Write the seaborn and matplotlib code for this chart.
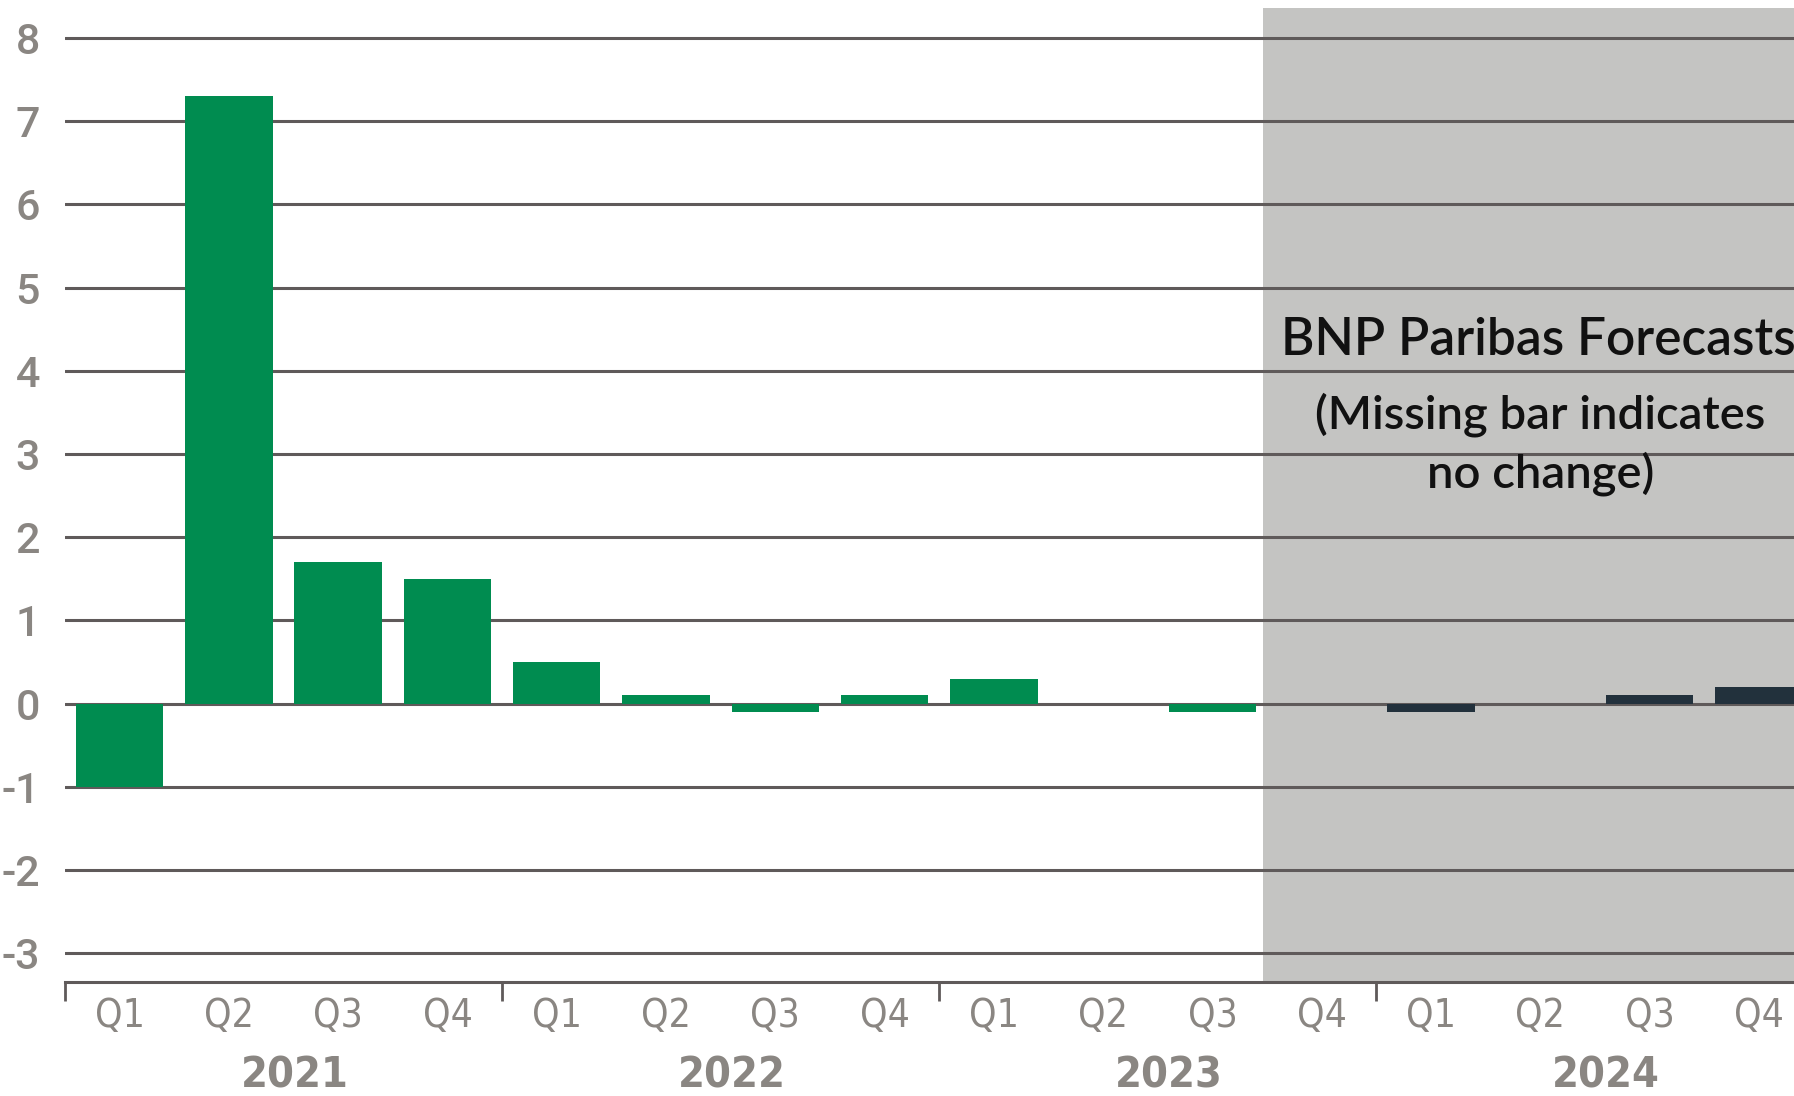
import numpy as np
import pandas as pd
import matplotlib
matplotlib.use("Agg")
import matplotlib.pyplot as plt
import matplotlib.transforms as mtransforms
from matplotlib import font_manager
import seaborn as sns

# ---- data ----
quarters = ["Q1", "Q2", "Q3", "Q4"] * 4
years = ["2021", "2022", "2023", "2024"]
values = [-1.0, 7.3, 1.7, 1.5, 0.5, 0.1, -0.1, 0.1, 0.3, 0.0, -0.1, 0.0, -0.1, 0.0, 0.1, 0.2]
kind = ["Actual"] * 11 + ["Forecast"] * 5
y_ticks = [-3, -2, -1, 0, 1, 2, 3, 4, 5, 6, 7, 8]
annot_title = "BNP Paribas Forecasts"
annot_note = "(Missing bar indicates\nno change)"

df = pd.DataFrame({"pos": [str(i) for i in range(len(values))], "value": values, "kind": kind})

sns.set_theme(style="white")

# pick a condensed font if available
names = {f.name for f in font_manager.fontManager.ttflist}
cond_files = [f for f in font_manager.fontManager.ttflist
              if f.name == "DejaVu Sans" and "ondensed" in str(f.stretch).lower() + f.fname.lower()]
if "Liberation Sans Narrow" in names:
    NARROW = dict(family=["Liberation Sans Narrow", "DejaVu Sans"])
elif cond_files:
    NARROW = dict(family=["DejaVu Sans"], fontstretch="condensed")
else:
    NARROW = dict(family=["Roboto", "DejaVu Sans"])
plt.rcParams["font.family"] = ["Roboto", "DejaVu Sans"]

GREEN = "#008C50"
NAVY = "#22313C"
SHADE = "#C4C4C2"
GRID = "#5F5A5A"
LABEL = "#8A8682"

fig = plt.figure(figsize=(17.94, 10.96), dpi=100)
ax = fig.add_axes([0.0362, 0.1044, 0.9638, 0.8883])

sns.barplot(data=df, x="pos", y="value", hue="kind", palette={"Actual": GREEN, "Forecast": NAVY},
            dodge=False, width=0.8, linewidth=0, legend=False, ax=ax, saturation=1)
for p in ax.patches:
    p.set_zorder(3)

# forecast shading (behind gridlines and bars)
ax.axvspan(10.46, 16, facecolor=SHADE, zorder=0, lw=0)

# gridlines
for t in y_ticks:
    ax.axhline(t, color=GRID, lw=2.2, zorder=1)

ax.set_xlim(-0.5, 15.32)
ax.set_ylim(-3.34, 8.36)
ax.set_xlabel("")
ax.set_ylabel("")

for s in ["top", "right", "left"]:
    ax.spines[s].set_visible(False)
ax.spines["bottom"].set_color(GRID)
ax.spines["bottom"].set_linewidth(2.2)
ax.spines["bottom"].set_zorder(4)

# y ticks
ax.set_yticks(y_ticks)
ax.set_yticklabels([str(t) for t in y_ticks], fontsize=31, color=LABEL, fontweight="medium")
ax.tick_params(axis="y", length=0, pad=18)

# x: quarter labels at centers, boundary ticks
ax.set_xticks(np.arange(16))
ax.set_xticklabels(quarters, fontsize=28, color=LABEL, **NARROW)
ax.tick_params(axis="x", which="major", length=0, pad=11)
ax.set_xticks(np.arange(16) - 0.5, minor=True)
ax.tick_params(axis="x", which="minor", length=6, width=2, color=GRID, direction="out")

sec = ax.secondary_xaxis("bottom")
sec.set_xticks([-0.5, 3.5, 7.5, 11.5])
sec.set_xticklabels([])
sec.tick_params(length=14, width=2, color=GRID)
sec.spines["bottom"].set_visible(False)

trans = mtransforms.blended_transform_factory(ax.transData, ax.transAxes)
for i, yr in enumerate(years):
    ax.text(4 * i + 1.6, -0.096, yr, transform=trans, ha="center", va="center",
            fontsize=31, color=LABEL, fontweight="bold", **NARROW)

ax.text(12.98, 4.36, annot_title, ha="center", va="center", fontsize=37,
        color="#111111", family=["Lato", "DejaVu Sans"], fontweight="semibold", zorder=5)
ax.text(13.0, 3.115, annot_note, ha="center", va="center", fontsize=34,
        color="#111111", family=["Lato", "DejaVu Sans"], fontweight="semibold",
        linespacing=1.4, zorder=5)

fig.savefig("out.png", dpi=100)
